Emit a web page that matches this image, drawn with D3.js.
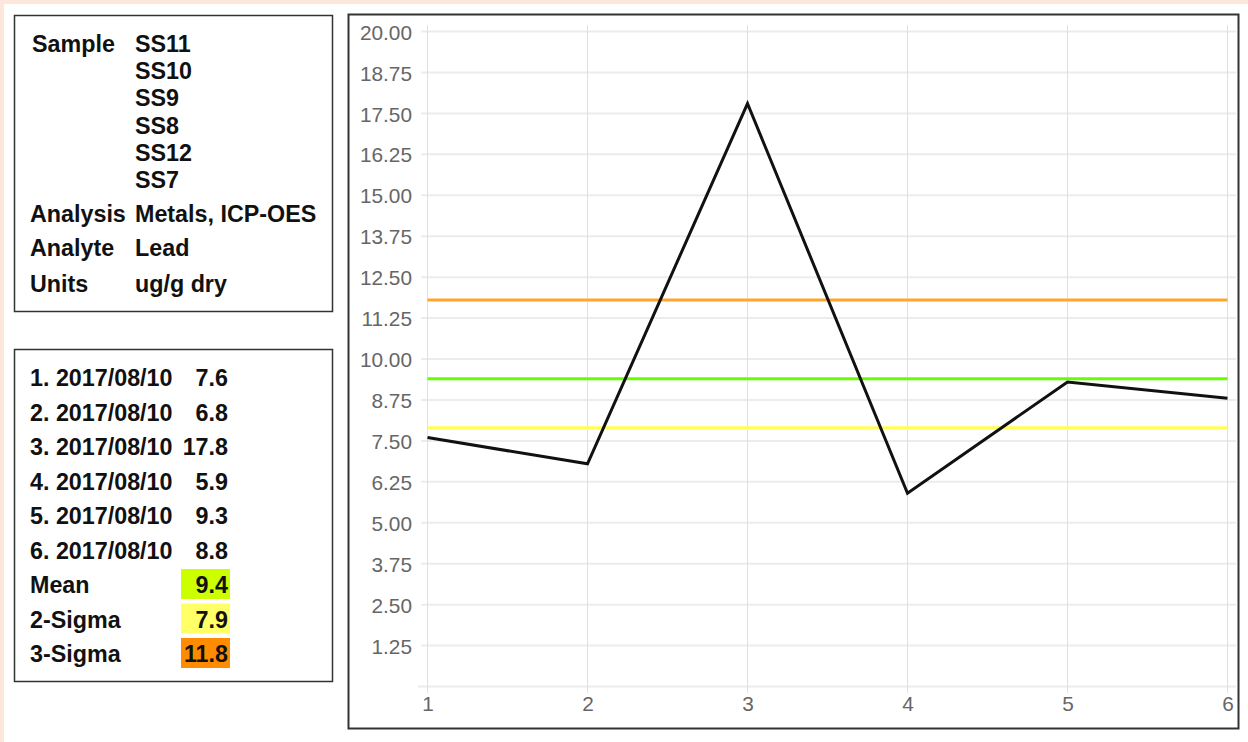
<!DOCTYPE html>
<html><head><meta charset="utf-8">
<script src="https://cdn.jsdelivr.net/npm/d3@7"></script>
<style>
html,body{margin:0;padding:0;background:#fff;}
body{width:1248px;height:742px;overflow:hidden;}
text{font-family:"Liberation Sans",Arial,sans-serif;}
</style></head><body>
<svg id="c" width="1248" height="742"></svg>
<script>
const samples = ["SS11","SS10","SS9","SS8","SS12","SS7"];
const infoLabels = ["Analysis","Analyte","Units"];
const infoValues = ["Metals, ICP-OES","Lead","ug/g dry"];
const runs = [1,2,3,4,5,6];
const dates = ["2017/08/10","2017/08/10","2017/08/10","2017/08/10","2017/08/10","2017/08/10"];
const values = [7.6,6.8,17.8,5.9,9.3,8.8];
const statLabels = ["Mean","2-Sigma","3-Sigma"];
const statValues = [9.4,7.9,11.8];
const statColors = ["#ccff00","#ffff66","#ff8c00"];
const lineColors = ["#66ff00","#ffff55","#ffa52e"];
const yTicks = [1.25,2.5,3.75,5,6.25,7.5,8.75,10,11.25,12.5,13.75,15,16.25,17.5,18.75,20];

const svg = d3.select("#c");
// page background strips
svg.append("rect").attr("x",0).attr("y",0).attr("width",1248).attr("height",4).attr("fill","#fbe8da");
svg.append("rect").attr("x",0).attr("y",0).attr("width",4).attr("height",742).attr("fill","#fbe8da");

const FS = 23.3;
// Box 1
svg.append("rect").attr("x",14.5).attr("y",15.5).attr("width",318).attr("height",296)
  .attr("fill","#fff").attr("stroke","#333").attr("stroke-width",1.5);
const b1 = svg.append("g").attr("font-weight","bold").attr("font-size",FS).attr("fill","#111");
b1.append("text").attr("x",32).attr("y",52).text("Sample");
samples.forEach((s,i)=>{
  b1.append("text").attr("x",135).attr("y",52+i*27.2).text(s);
});
const infoY = [222,256,292];
infoLabels.forEach((l,i)=>{
  b1.append("text").attr("x",30).attr("y",infoY[i]).text(l);
  b1.append("text").attr("x",135).attr("y",infoY[i]).text(infoValues[i]);
});

// Box 2
svg.append("rect").attr("x",14.5).attr("y",349.5).attr("width",318).attr("height",332)
  .attr("fill","#fff").attr("stroke","#333").attr("stroke-width",1.5);
const b2 = svg.append("g").attr("font-weight","bold").attr("font-size",FS).attr("fill","#111");
const rowY = i => 386 + i*34.5;
runs.forEach((r,i)=>{
  b2.append("text").attr("x",30).attr("y",rowY(i)).text(r+". "+dates[i]);
  b2.append("text").attr("x",228).attr("y",rowY(i)).attr("text-anchor","end").text(values[i].toFixed(1));
});
statLabels.forEach((l,i)=>{
  const y = rowY(6+i);
  b2.append("rect").attr("x",181).attr("y",y-24).attr("width",49).attr("height",30).attr("fill",statColors[i]);
  b2.append("text").attr("x",30).attr("y",y).text(l);
  b2.append("text").attr("x",228).attr("y",y).attr("text-anchor","end").text(statValues[i].toFixed(1));
});

// Chart box
svg.append("rect").attr("x",348.5).attr("y",14.5).attr("width",890).attr("height",714)
  .attr("fill","#fff").attr("stroke","#333").attr("stroke-width",2);

const x = d3.scaleLinear().domain([1,6]).range([427.5,1227.5]);
const y = d3.scaleLinear().domain([0,20]).range([686.5,31.5]);

const g = svg.append("g");
// horizontal gridlines
g.append("g").selectAll("line").data([0].concat(yTicks)).join("line")
  .attr("x1",d=>d===0?418:421).attr("x2",1236)
  .attr("y1",d=>y(d)).attr("y2",d=>y(d))
  .attr("stroke","#ececec").attr("stroke-width",2);
// vertical gridlines
g.append("g").selectAll("line").data(runs).join("line")
  .attr("x1",d=>x(d)).attr("x2",d=>x(d)).attr("y1",25).attr("y2",693)
  .attr("stroke","#e0e0e0").attr("stroke-width",1);

// Axes (labels only)
const yAxis = d3.axisLeft(y).tickValues(yTicks).tickFormat(d3.format(".2f")).tickSize(0).tickPadding(0);
const ya = svg.append("g").attr("transform","translate(412,1)").call(yAxis);
ya.select(".domain").remove();
ya.selectAll("text").attr("font-size",20.8).attr("fill","#666");

const xAxis = d3.axisBottom(x).tickValues(runs).tickFormat(d3.format("d")).tickSize(0).tickPadding(0);
const xa = svg.append("g").attr("transform","translate(0,696)").call(xAxis);
xa.select(".domain").remove();
xa.selectAll("text").attr("font-size",20.8).attr("fill","#666");

// Limit lines: 3-sigma, mean, 2-sigma
[2,0,1].forEach(i=>{
  svg.append("line").attr("x1",x(1)).attr("x2",x(6))
    .attr("y1",y(statValues[i])).attr("y2",y(statValues[i]))
    .attr("stroke",lineColors[i]).attr("stroke-width",3);
});

// Data line
const line = d3.line().x((d,i)=>x(runs[i])).y(d=>y(d));
svg.append("path").datum(values).attr("d",line).attr("fill","none")
  .attr("stroke","#111").attr("stroke-width",3).attr("stroke-linejoin","miter");
</script>
</body></html>
